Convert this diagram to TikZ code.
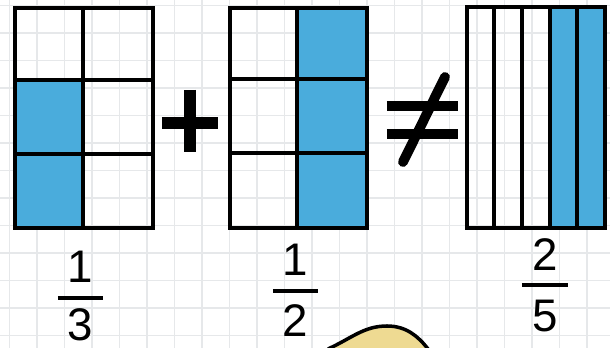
\documentclass[tikz,border=0pt]{standalone}
\usepackage{fontspec}
\setmainfont{Liberation Sans}
\usetikzlibrary{calc}
\definecolor{fracblue}{RGB}{74,172,220}
\definecolor{gridgray}{RGB}{230,232,234}
\definecolor{handyellow}{RGB}{238,218,146}

\begin{document}
\begin{tikzpicture}[
  x=0.02cm, y=-0.02cm,
  outline/.style={draw=black, line width=2.8pt},
  divline/.style={draw=black, line width=2.4pt},
  gridline/.style={draw=gridgray, line width=0.6pt},
  digit/.style={font=\fontsize{26}{26}\selectfont, inner sep=0pt},
  fracbar/.style={line width=2.8pt},
  opbar/.style={line width=7pt},
  neqbar/.style={line width=5.6pt}
]
  \useasboundingbox (0,0) rectangle (610,348);
  \fill[white] (0,0) rectangle (610,348);

  %% squared paper
  \foreach \gx in {0,...,21}
    \draw[gridline] ({9.5+27.5*\gx},0) -- ({9.5+27.5*\gx},348);
  \foreach \gy in {0,...,12}
    \draw[gridline] (0,{5.5+27.5*\gy}) -- (610,{5.5+27.5*\gy});

  %% one third: 2 x 3 cells
  \fill[fracblue] (15,80) rectangle (83,228);
  \draw[divline] (83,8) -- (83,228);
  \draw[divline] (15,80) -- (153,80);
  \draw[divline] (15,154) -- (153,154);
  \draw[outline] (15,8) rectangle (153,228);

  %% one half: 2 x 3 cells
  \fill[fracblue] (297,8) rectangle (367,228);
  \draw[divline] (297,8) -- (297,228);
  \draw[divline] (230,79) -- (367,79);
  \draw[divline] (230,153) -- (367,153);
  \draw[outline] (230,8) rectangle (367,228);

  %% two fifths: 5 strips
  \fill[fracblue] (550,7) rectangle (605,228);
  \foreach \sx in {494,522,550,577}
    \draw[divline] (\sx,7) -- (\sx,228);
  \draw[outline] (467,7) rectangle (605,228);

  %% plus
  \draw[opbar] (162,123) -- (218,123);
  \draw[opbar] (190,90) -- (190,152);

  %% not equal
  \draw[neqbar] (387,106) -- (458,106);
  \draw[neqbar] (387,134) -- (458,134);
  \draw[neqbar, line cap=round] (403,162) -- (445,77);

  %% fractions
  \node[digit] (num1) at (80,267) {1};
  \node[digit] (den1) at (80,325) {3};
  \draw[fracbar] (58,298) -- (103,298);

  \node[digit] (num2) at (295,260) {1};
  \node[digit] (den2) at (295,321) {2};
  \draw[fracbar] (273,291) -- (318,291);

  \node[digit] (num3) at (545,255) {2};
  \node[digit] (den3) at (545,316) {5};
  \draw[fracbar] (522,285) -- (568,285);

  %% hand at the bottom edge
  \fill[handyellow] (328,349) .. controls (352,338) and (364,326) .. (387,326)
    .. controls (406,326) and (418,336) .. (428,349) -- cycle;
  \draw[line width=2pt] (328,349) .. controls (352,338) and (364,326) .. (387,326)
    .. controls (406,326) and (418,336) .. (428,349);
\end{tikzpicture}
\end{document}
